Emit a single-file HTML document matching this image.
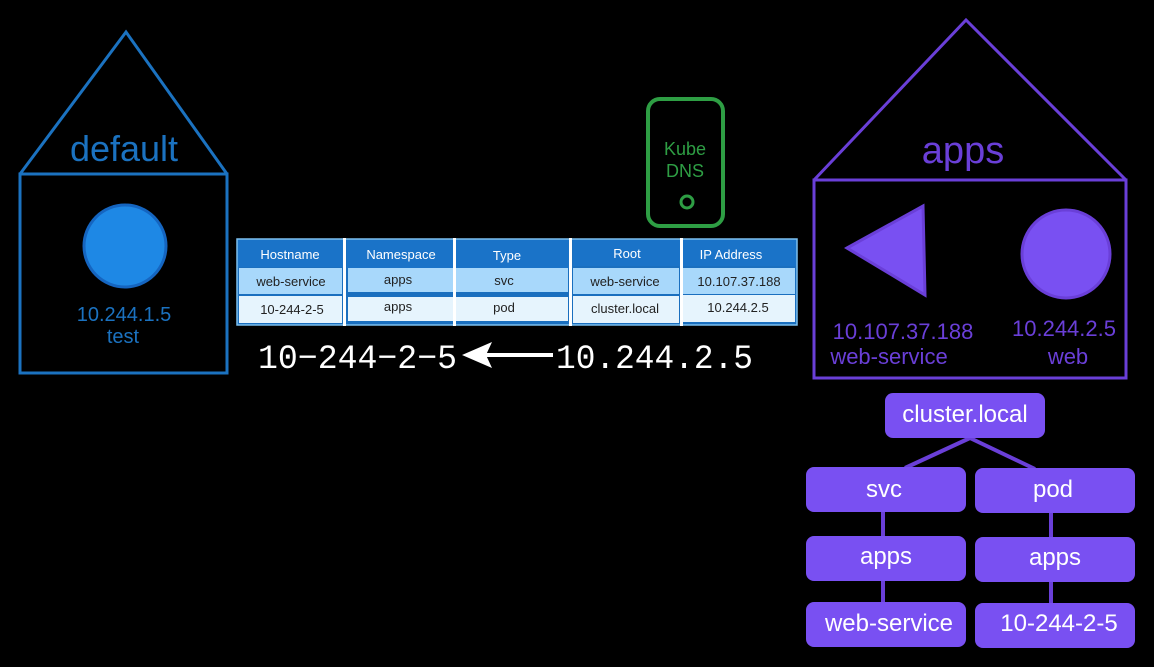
<!DOCTYPE html>
<html><head><style>
html,body{margin:0;padding:0;background:#000;}
svg{display:block;}
text{font-family:"Liberation Sans",sans-serif;}
text.mono{font-family:"Liberation Mono",monospace;}
</style></head><body>
<svg width="1154" height="667" viewBox="0 0 1154 667" xmlns="http://www.w3.org/2000/svg">
<rect width="1154" height="667" fill="#000"/>
<g stroke="#1b72c0" stroke-width="3" fill="none">
<polyline points="20,174 126,32 227,174"/>
<rect x="20" y="174" width="207" height="199"/>
</g>
<text x="124" y="161" font-size="36" fill="#1b72c0" text-anchor="middle">default</text>
<circle cx="125" cy="246" r="41" fill="#1e88e5" stroke="#1565c0" stroke-width="3"/>
<text x="124" y="321" font-size="20" fill="#1b72c0" text-anchor="middle">10.244.1.5</text>
<text x="123" y="343" font-size="20" fill="#1b72c0" text-anchor="middle">test</text>
<g stroke="#6a3fd8" stroke-width="3" fill="none">
<polyline points="814,180 966,20 1126,180"/>
<rect x="814" y="180" width="312" height="198"/>
</g>
<text x="963" y="163" font-size="38" fill="#6a3fd8" text-anchor="middle">apps</text>
<polygon points="847,248 923,206 925,295" fill="#7950f2" stroke="#6a3fd8" stroke-width="3"/>
<circle cx="1066" cy="254" r="44" fill="#7950f2" stroke="#6a3fd8" stroke-width="3"/>
<text x="903" y="339" font-size="22" fill="#6a3fd8" text-anchor="middle">10.107.37.188</text>
<text x="889" y="364" font-size="22" fill="#6a3fd8" text-anchor="middle">web-service</text>
<text x="1064" y="336" font-size="22" fill="#6a3fd8" text-anchor="middle">10.244.2.5</text>
<text x="1068" y="364" font-size="22" fill="#6a3fd8" text-anchor="middle">web</text>
<rect x="648" y="99" width="75" height="127" rx="12" fill="none" stroke="#2e9e44" stroke-width="4"/>
<text x="685" y="155" font-size="18" fill="#2e9e44" text-anchor="middle">Kube</text>
<text x="685" y="177" font-size="18" fill="#2e9e44" text-anchor="middle">DNS</text>
<circle cx="687" cy="202" r="6" fill="none" stroke="#2e9e44" stroke-width="3"/>
<rect x="237" y="239" width="560" height="86" fill="#1a6fbf" stroke="#7cc0f0" stroke-width="1.5"/>
<g fill="#1a73c8">
<rect x="238" y="240" width="105" height="27"/>
<rect x="347" y="240" width="106" height="28"/>
<rect x="456" y="240" width="113" height="28"/>
<rect x="573" y="240" width="107" height="26"/>
<rect x="683" y="240" width="113" height="26"/>
</g>
<g fill="#a8d8fb">
<rect x="239" y="268" width="103" height="26"/>
<rect x="348" y="268" width="105" height="24"/>
<rect x="456" y="268" width="112" height="24"/>
<rect x="573" y="268" width="106" height="26"/>
<rect x="683" y="268" width="112" height="26"/>
</g>
<g fill="#e6f4fd">
<rect x="239" y="296" width="103" height="27"/>
<rect x="348" y="297" width="105" height="24"/>
<rect x="456" y="297" width="112" height="24"/>
<rect x="573" y="296" width="106" height="27"/>
<rect x="683" y="295" width="112" height="27"/>
</g>
<g fill="#fff">
<rect x="343" y="238" width="3" height="88"/>
<rect x="453" y="238" width="3" height="88"/>
<rect x="569" y="238" width="3" height="88"/>
<rect x="680" y="238" width="3" height="88"/>
</g>
<g font-size="13" fill="#fff" text-anchor="middle">
<text x="290" y="259">Hostname</text>
<text x="401" y="259">Namespace</text>
<text x="507" y="260">Type</text>
<text x="627" y="258">Root</text>
<text x="731" y="259">IP Address</text>
</g>
<g font-size="13" fill="#222" text-anchor="middle">
<text x="291" y="286">web-service</text>
<text x="398" y="284">apps</text>
<text x="504" y="285">svc</text>
<text x="625" y="286">web-service</text>
<text x="739" y="286">10.107.37.188</text>
<text x="292" y="314">10-244-2-5</text>
<text x="398" y="311">apps</text>
<text x="504" y="312">pod</text>
<text x="625" y="313">cluster.local</text>
<text x="738" y="312">10.244.2.5</text>
</g>
<text class="mono" x="258" y="368" font-size="34" fill="#fff" textLength="199" lengthAdjust="spacingAndGlyphs">10−244−2−5</text>
<line x1="553" y1="355" x2="475" y2="355" stroke="#fff" stroke-width="4"/>
<polygon points="462,355 492,342 486,355 492,368" fill="#fff"/>
<text class="mono" x="556" y="368" font-size="34" fill="#fff" textLength="197" lengthAdjust="spacingAndGlyphs">10.244.2.5</text>
<g stroke="#6a3fd8" stroke-width="4">
<line x1="970" y1="438" x2="905" y2="468"/>
<line x1="970" y1="438" x2="1035" y2="469"/>
<line x1="883" y1="512" x2="883" y2="537"/>
<line x1="883" y1="581" x2="883" y2="603"/>
<line x1="1051" y1="513" x2="1051" y2="538"/>
<line x1="1051" y1="582" x2="1051" y2="604"/>
</g>
<g fill="#7950f2">
<rect x="885" y="393" width="160" height="45" rx="8"/>
<rect x="806" y="467" width="160" height="45" rx="8"/>
<rect x="975" y="468" width="160" height="45" rx="8"/>
<rect x="806" y="536" width="160" height="45" rx="8"/>
<rect x="975" y="537" width="160" height="45" rx="8"/>
<rect x="806" y="602" width="160" height="45" rx="8"/>
<rect x="975" y="603" width="160" height="45" rx="8"/>
</g>
<g font-size="24" fill="#fff" text-anchor="middle">
<text x="965" y="422">cluster.local</text>
<text x="884" y="497">svc</text>
<text x="1053" y="497">pod</text>
<text x="886" y="564">apps</text>
<text x="1055" y="565">apps</text>
<text x="889" y="631">web-service</text>
<text x="1059" y="631">10-244-2-5</text>
</g>
</svg>
</body></html>
